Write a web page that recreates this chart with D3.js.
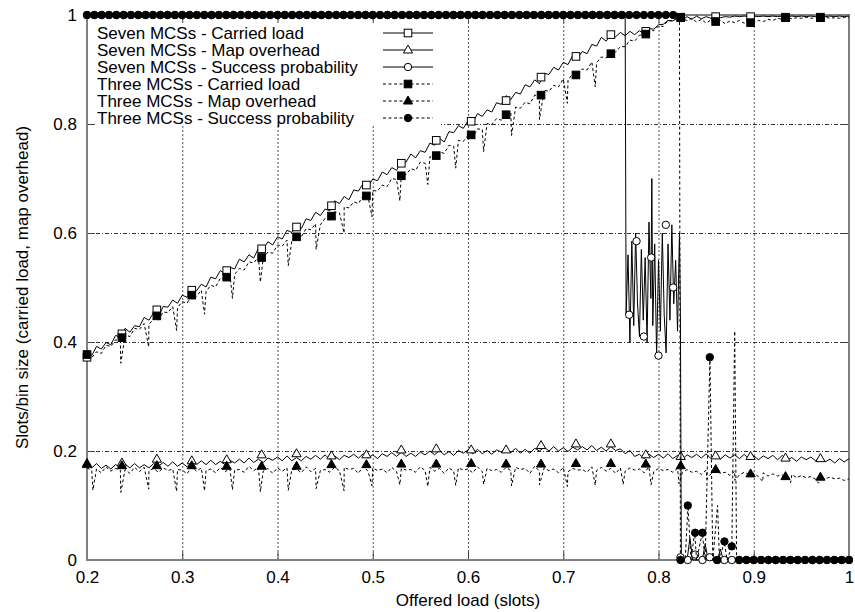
<!DOCTYPE html>
<meta charset="utf-8">
<html>
<head>
<style>
    body { margin: 0; background: #fff; }
    svg { display: block; font-family: "Liberation Sans", Arial, Helvetica, sans-serif; }
    .gridx line { stroke: #555; stroke-width: 1; stroke-dasharray: 2,2; }
    .gridy line { stroke: #333; stroke-width: 1; stroke-dasharray: 4,2,1,2; }
    .ticks line { stroke: #444; stroke-width: 1; }
    .ticks text { font-size: 17px; fill: #000; }
    .series path.curve { fill: none; stroke: #000; stroke-width: 1; }
    .dashed { stroke-dasharray: 3,2.5; }
</style>
</head>
<body>
<svg width="855" height="612"></svg>
<script src="https://d3js.org/d3.v7.min.js"></script>
<script>

    // x grid of the noisy curves (offered load, slots)
    var offeredLoad = d3.range(161).map(function(i) { return +(0.2 + i * 0.005).toFixed(3); });

    var carried7 = [
        .379,.375,.392,.387,.399,.395,.412,.409,.425,.418,
        .430,.428,.445,.440,.454,.447,.465,.464,.477,.471,
        .486,.482,.498,.494,.506,.501,.519,.516,.531,.525,
        .537,.534,.552,.547,.560,.554,.572,.570,.584,.578,
        .593,.589,.605,.601,.613,.608,.626,.623,.638,.632,
        .644,.641,.659,.654,.667,.661,.679,.677,.691,.685,
        .699,.696,.712,.707,.720,.715,.732,.730,.745,.738,
        .751,.748,.765,.761,.774,.767,.786,.784,.797,.792,
        .806,.802,.819,.814,.826,.822,.839,.836,.852,.845,
        .858,.855,.872,.868,.881,.874,.893,.891,.904,.899,
        .913,.909,.926,.921,.933,.929,.946,.943,.959,.952,
        .964,.960,.968,.962,.970,.964,.971,.966,.975,.974,
        .982,.983,.990,.989,.995,.991,.997,.992,.998,.993,
        .997,.994,.998,.995,.997,.996,.998,.997,.998,.997,
        .998,.997,.998,.997,.998,.997,.998,.997,.998,.997,
        .998,.997,.998,.997,.998,.997,.998,.997,.998,.997,
        .998];

    var overhead7 = [
        .176,.169,.177,.168,.174,.167,.175,.170,.176,.169,
        .177,.169,.175,.169,.177,.172,.179,.172,.180,.172,
        .178,.171,.180,.175,.182,.175,.183,.175,.181,.175,
        .183,.178,.185,.178,.187,.179,.185,.179,.187,.183,
        .189,.182,.191,.182,.188,.182,.190,.185,.192,.185,
        .193,.184,.191,.184,.192,.188,.194,.187,.195,.187,
        .193,.186,.195,.190,.197,.190,.198,.190,.196,.190,
        .198,.193,.200,.193,.201,.193,.199,.192,.201,.196,
        .202,.195,.203,.195,.201,.194,.202,.198,.204,.197,
        .205,.196,.203,.196,.205,.200,.207,.200,.208,.200,
        .206,.199,.207,.202,.208,.202,.210,.201,.207,.200,
        .208,.201,.204,.195,.201,.190,.194,.186,.194,.188,
        .194,.187,.195,.186,.192,.185,.193,.188,.194,.187,
        .195,.186,.192,.185,.193,.187,.193,.186,.194,.185,
        .191,.184,.191,.186,.192,.184,.192,.183,.188,.181,
        .189,.184,.189,.182,.189,.180,.185,.178,.186,.180,
        .186];

    var carried3 = [
        .373,.371,.382,.379,.394,.392,.404,.402,.413,.410,
        .425,.423,.434,.432,.443,.440,.455,.454,.465,.463,
        .474,.471,.486,.484,.495,.493,.504,.501,.517,.515,
        .526,.524,.535,.532,.547,.545,.556,.554,.565,.563,
        .578,.576,.587,.585,.596,.593,.608,.606,.617,.615,
        .627,.624,.639,.637,.648,.646,.657,.654,.669,.667,
        .678,.677,.688,.685,.700,.698,.709,.707,.718,.715,
        .730,.728,.740,.738,.749,.746,.761,.759,.770,.768,
        .779,.776,.791,.790,.801,.799,.810,.807,.822,.820,
        .831,.829,.840,.837,.853,.851,.862,.860,.871,.868,
        .883,.881,.892,.890,.901,.899,.914,.912,.923,.921,
        .932,.932,.942,.942,.954,.952,.963,.963,.972,.971,
        .980,.979,.990,.989,.995,.993,.990,.994,.987,.992,
        .985,.991,.988,.990,.984,.989,.986,.990,.985,.988,
        .986,.990,.988,.992,.990,.994,.992,.995,.993,.995,
        .994,.996,.994,.995,.994,.996,.994,.995,.994,.996,
        .995];
    // short downward spikes of the dashed carried-load curve
    var carried3Dips = [
        [.2355,.361],[.2648,.391],[.2941,.421],[.3234,.451],[.3527,.480],[.3820,.510],
        [.4113,.540],[.4406,.570],[.4699,.600],[.4992,.630],[.5285,.659],[.5578,.689],
        [.5871,.719],[.6164,.749],[.6457,.779],[.6750,.808],[.7043,.838],[.7336,.868]];

    var overhead3 = [
        .169,.164,.167,.160,.171,.163, .168,.165,.166,.159,.170,.162,
        .170,.164,.168,.161,.169,.164, .167,.166,.165,.158,.171,.163,
        .169,.164,.167,.160,.170,.162, .168,.165,.166,.161,.172,.164,
        .170,.163,.168,.159,.169,.163, .169,.165,.167,.160,.171,.162,
        .168,.164,.166,.161,.170,.164, .170,.166,.168,.159,.172,.163,
        .169,.164,.167,.160,.170,.162, .168,.165,.166,.161,.171,.164,
        .170,.163,.168,.159,.169,.163, .169,.165,.167,.160,.171,.162,
        .168,.164,.166,.161,.170,.164, .170,.166,.168,.159,.172,.163,
        .169,.164,.167,.160,.170,.162, .168,.165,.166,.161,.171,.164,
        .170,.163,.168,.159,.169,.163, .169,.165,.167,.160,.171,.162,
        .168,.164,.166,.161,.168,.160, .166,.161,.163,.157,.165,.158,
        .164,.159,.161,.155,.163,.156, .161,.157,.159,.153,.160,.154,
        .158,.154,.156,.150,.157,.151, .155,.151,.153,.148,.154,.149,
        .152,.149,.150,.146,.149];
    var overhead3Dips = [
        [.2062,.128],[.2355,.124],[.2648,.130],[.2941,.126],[.3234,.127],[.3527,.129],
        [.3820,.125],[.4113,.128],[.4406,.131],[.4699,.127],[.4992,.136],[.5285,.138],
        [.5578,.135],[.5871,.137],[.6164,.139],[.6457,.136],[.6750,.138],[.7043,.135],
        [.7336,.137],[.7629,.139],[.7922,.138],[.8215,.140],[.8508,.148],[.8801,.146],
        [.9094,.144],[.9387,.142],[.9680,.141]];

    // success probability curves, [offered load, probability]
    var success7 = [
        [.200,1],[.765,1],[.766,.45],[.768,.56],[.770,.40],[.772,.585],[.774,.43],[.776,.60],
        [.778,.47],[.780,.41],[.782,.57],[.784,.44],[.786,.555],[.788,.40],[.790,.62],[.792,.48],
        [.793,.70],[.794,.43],[.796,.58],[.798,.375],[.800,.55],[.802,.42],[.804,.60],[.806,.45],
        [.808,.38],[.810,.58],[.812,.44],[.814,.615],[.816,.47],[.818,.55],[.820,.42],[.822,.60],
        [.823,.45],[.824,0],[.830,0],[.833,.04],[.836,0],[.846,0],[.849,.03],[.852,0],
        [.862,0],[.865,.02],[.868,0],[1,0]];

    var success3 = [
        [.200,1],[.822,1],[.823,0],[.828,0],[.831,.10],[.834,0],[.838,.05],[.840,0],
        [.846,.05],[.849,0],[.854,.372],[.857,0],[.862,.10],[.864,0],[.869,.034],[.872,0],
        [.877,.025],[.880,.42],[.882,0],[1,0]];

    // point symbols
    var markLoad = d3.range(22).map(function(j) { return 0.2 + j * 11 / 300; });
    var carried7Marks  = [.372,.415,.459,.495,.531,.571,.611,.650,.688,.728,.770,.805,.843,.886,.924,.964,.970,.996,.997,.997,.996,.996];
    var overhead7Marks = [.175,.178,.185,.182,.184,.193,.195,.191,.193,.202,.204,.202,.202,.210,.213,.213,.193,.190,.191,.190,.187,.186];
    var carried3Marks  = [.377,.408,.448,.486,.519,.555,.593,.631,.668,.705,.742,.780,.817,.853,.890,.929,.965,.995,.988,.986,.995,.995];
    var overhead3Marks = [.177,.173,.173,.173,.172,.172,.172,.175,.175,.176,.176,.177,.176,.176,.177,.177,.176,.173,.166,.158,.153,.152];

    var succLoad = d3.range(105).map(function(k) { return 0.2 + k / 130; });
    var success7Marks = [
        1,1,1,1,1,1,1,1,1,1, 1,1,1,1,1,1,1,1,1,1, 1,1,1,1,1,1,1,1,1,1,
        1,1,1,1,1,1,1,1,1,1, 1,1,1,1,1,1,1,1,1,1, 1,1,1,1,1,1,1,1,1,1,
        1,1,1,1,1,1,1,1,1,1, 1,1,1,1,
        .45,.585,.41,.555,.375,.615,.50,.005,
        0,.01,0,.005,0,0,0,0,0,0,0,0,0,0,0,0,0,0,0,0,0,0,0];
    var success3Marks = [
        1,1,1,1,1,1,1,1,1,1, 1,1,1,1,1,1,1,1,1,1, 1,1,1,1,1,1,1,1,1,1,
        1,1,1,1,1,1,1,1,1,1, 1,1,1,1,1,1,1,1,1,1, 1,1,1,1,1,1,1,1,1,1,
        1,1,1,1,1,1,1,1,1,1, 1,1,1,1,1,1,1,1,1,1, 1,
        0,.10,.05,.05,.372,0,.034,.025,
        0,0,0,0,0,0,0,0,0,0,0,0,0,0,0,0];

    var xTicks = [0.2, 0.3, 0.4, 0.5, 0.6, 0.7, 0.8, 0.9, 1];
    var yTicks = [0, 0.2, 0.4, 0.6, 0.8, 1];

    var legendLabels = [
        "Seven MCSs - Carried load",
        "Seven MCSs - Map overhead",
        "Seven MCSs - Success probability",
        "Three MCSs - Carried load",
        "Three MCSs - Map overhead",
        "Three MCSs - Success probability"
    ];

    var svg = d3.select("svg"),
        margin = {top: 15, right: 6, bottom: 52, left: 87},
        width = +svg.attr("width") - margin.left - margin.right,
        height = +svg.attr("height") - margin.top - margin.bottom;

    var x = d3.scaleLinear().domain([0.2, 1]).range([0, width]);
    var y = d3.scaleLinear().domain([0, 1]).range([height, 0]);

    var g = svg.append("g").attr("transform", "translate(" + margin.left + "," + margin.top + ")");

    // grid
    g.append("g").attr("class", "gridx")
        .attr("transform", "translate(0," + height + ")")
        .call(d3.axisBottom(x).tickValues(xTicks.slice(1, -1)).tickSize(-height).tickFormat(""))
        .call(function(s) { s.select(".domain").remove(); });
    g.append("g").attr("class", "gridy")
        .call(d3.axisLeft(y).tickValues(yTicks.slice(1, -1)).tickSize(-width).tickFormat(""))
        .call(function(s) { s.select(".domain").remove(); });

    // key background hides the grid
    g.append("rect").attr("x", 1).attr("y", 5).attr("width", 353).attr("height", 106).attr("fill", "#fff");

    // ticks + labels
    var xAxis = g.append("g").attr("class", "ticks")
        .attr("transform", "translate(0," + height + ")")
        .call(d3.axisBottom(x).tickValues(xTicks).tickSize(-8).tickFormat(function(d) { return d; }));
    xAxis.select(".domain").remove();
    xAxis.selectAll("text").attr("y", 23).attr("dy", 0);

    var yAxis = g.append("g").attr("class", "ticks")
        .call(d3.axisLeft(y).tickValues(yTicks).tickSize(-8).tickFormat(function(d) { return d; }));
    yAxis.select(".domain").remove();
    yAxis.selectAll("text").attr("x", -10).attr("dy", "0.34em");

    g.append("g").attr("class", "ticks")
        .call(d3.axisTop(x).tickValues(xTicks).tickSize(-8).tickFormat(""))
        .select(".domain").remove();
    g.append("g").attr("class", "ticks")
        .attr("transform", "translate(" + width + ",0)")
        .call(d3.axisRight(y).tickValues(yTicks).tickSize(-8).tickFormat(""))
        .select(".domain").remove();

    // border
    g.append("rect").attr("width", width).attr("height", height)
        .attr("fill", "none").attr("stroke", "#808080").attr("stroke-width", 2);

    var line = d3.line().x(function(d) { return x(d[0]); }).y(function(d) { return y(d[1]); });

    function marker(sel, type) {
        var open = type.indexOf("open") == 0;
        var fill = open ? "#fff" : "#000";
        var m;
        if (type.indexOf("square") > 0) {
            m = sel.append("rect").attr("x", -3.8).attr("y", -3.8).attr("width", 7.6).attr("height", 7.6);
        } else if (type.indexOf("triangle") > 0) {
            m = sel.append("path").attr("d", "M0,-5L4.6,3L-4.6,3Z");
        } else {
            m = sel.append("circle").attr("r", 3.7);
        }
        m.style("fill", fill).style("stroke", "#000").style("stroke-width", 1);
    }

    function withDips(values, dips) {
        return d3.sort(d3.zip(offeredLoad, values).concat(dips), function(d) { return d[0]; });
    }

    var series = [
        {line: d3.zip(offeredLoad, carried7), marks: d3.zip(markLoad, carried7Marks), sym: "open-square", dashed: false},
        {line: d3.zip(offeredLoad, overhead7), marks: d3.zip(markLoad, overhead7Marks), sym: "open-triangle", dashed: false},
        {line: success7, marks: d3.zip(succLoad, success7Marks), sym: "open-circle", dashed: false},
        {line: withDips(carried3, carried3Dips), marks: d3.zip(markLoad, carried3Marks), sym: "fill-square", dashed: true},
        {line: withDips(overhead3, overhead3Dips), marks: d3.zip(markLoad, overhead3Marks), sym: "fill-triangle", dashed: true},
        {line: success3, marks: d3.zip(succLoad, success3Marks), sym: "fill-circle", dashed: true}
    ];

    series.forEach(function(s) {
        var sg = g.append("g").attr("class", "series");
        sg.append("path").datum(s.line).attr("class", "curve").attr("d", line).classed("dashed", s.dashed);
        sg.selectAll("g.pt").data(s.marks).enter().append("g").attr("class", "pt")
            .attr("transform", function(d) { return "translate(" + x(d[0]) + "," + y(d[1]) + ")"; })
            .each(function() { marker(d3.select(this), s.sym); });
    });

    // key
    var key = g.append("g").attr("class", "series");
    legendLabels.forEach(function(label, i) {
        var ky = 18 + i * 17;
        key.append("text").attr("x", 10).attr("y", ky + 6).attr("font-size", 17).text(label);
        key.append("path").attr("class", "curve").attr("d", "M296," + ky + "H346").classed("dashed", series[i].dashed);
        key.append("g").attr("transform", "translate(321," + ky + ")").call(marker, series[i].sym);
    });

    // axis titles
    svg.append("text").attr("x", margin.left + width / 2).attr("y", 606)
        .attr("text-anchor", "middle").attr("font-size", 17).text("Offered load (slots)");
    svg.append("text").attr("transform", "translate(28," + (margin.top + height / 2) + ") rotate(-90)")
        .attr("text-anchor", "middle").attr("font-size", 17)
        .text("Slots/bin size (carried load, map overhead)");
</script>
</body>
</html>
